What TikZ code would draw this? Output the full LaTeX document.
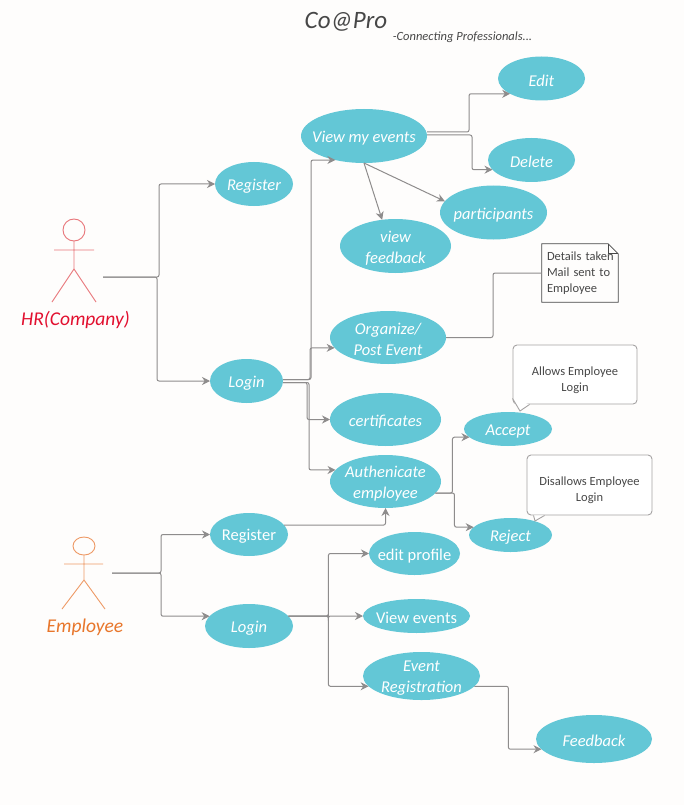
\documentclass[tikz,border=0pt]{standalone}
\usepackage{fontspec}
\setmainfont{Carlito}
\usetikzlibrary{shapes.geometric,arrows.meta}
\definecolor{pagebg}{HTML}{FEFDFC}
\definecolor{ucfill}{HTML}{63C7D6}
\definecolor{linegray}{HTML}{8E8C8C}
\definecolor{hrline}{HTML}{E8767A}
\definecolor{hrtext}{HTML}{E2102F}
\definecolor{empline}{HTML}{EE9A66}
\definecolor{emptext}{HTML}{E8762B}
\definecolor{titlegray}{HTML}{474747}
\newcommand{\ucname}[1]{\smash{\makebox[0pt]{\raisebox{-6.5pt}{\parbox{160pt}{\centering #1}}}}}
\tikzset{
  usecase/.style={ellipse,fill=ucfill,inner sep=0pt,outer sep=0pt,text=white,
    font=\fontsize{16.5}{21}\selectfont\itshape},
  ucplain/.style={usecase,font=\fontsize{16.5}{21}\selectfont},
  conn/.style={draw=linegray,line width=1pt,rounded corners=2pt},
  arrowconn/.style={conn,-{Stealth[length=8pt,width=8pt]}},
  actorname/.style={inner sep=0pt,font=\fontsize{19.5}{23}\selectfont\itshape},
  bubble/.style={draw=linegray!80,line width=0.9pt,fill=white,rounded corners=4pt,
    align=center,text=titlegray,inner sep=0pt,font=\fontsize{12.5}{16}\selectfont},
  notebox/.style={inner ysep=0pt,inner xsep=5pt,align=left,text=titlegray,font=\fontsize{12.5}{16}\selectfont},
}
\begin{document}
\begin{tikzpicture}[x=1pt,y=-1pt]
  \fill[pagebg] (0,0) rectangle (684,805);
  \useasboundingbox (0,0) rectangle (684,805);

  \node[inner sep=0pt,text=titlegray,font=\fontsize{25}{30}\selectfont\itshape] (title) at (346,21.5) {Co@Pro};
  \node[inner sep=0pt,text=titlegray,font=\fontsize{12.5}{16}\selectfont\itshape] (subtitle) at (462.5,37) {-Connecting Professionals...};

  % actors
  \draw[hrline,line width=0.9pt] (74,230) circle [radius=11];
  \draw[hrline,line width=0.9pt] (54,250) -- (94,250) (74,241) -- (74,269) (52,302) -- (74,269) -- (96,302);
  \node[actorname,text=hrtext] (hrname) at (75.5,320) {HR(Company)};
  \draw[empline,line width=0.9pt] (84,546) ellipse [x radius=11,y radius=9];
  \draw[empline,line width=0.9pt] (64,564) -- (103,564) (84,555) -- (84,580) (62,609) -- (84,580) -- (105,609);
  \node[actorname,text=emptext] (empname) at (85,627) {Employee};
  \coordinate (hrhook) at (103,277);
  \coordinate (emphook) at (112,573);

  % use cases
  \node[usecase,minimum width=87,minimum height=44] (edit) at (541.5,78.5) {\ucname{Edit}};
  \node[usecase,minimum width=87,minimum height=44] (delete) at (531.5,160) {\ucname{Delete}};
  \node[usecase,minimum width=126,minimum height=54] (myevents) at (364,136) {\ucname{View my events}};
  \node[usecase,minimum width=107,minimum height=54] (participants) at (493.5,212.5) {\ucname{participants}};
  \node[usecase,minimum width=111,minimum height=54] (viewfeedback) at (395.5,246) {\ucname{view\\feedback}};
  \node[usecase,minimum width=78,minimum height=44] (hrregister) at (254,184) {\ucname{Register}};
  \node[usecase,minimum width=73,minimum height=44] (hrlogin) at (246.5,381) {\ucname{Login}};
  \node[usecase,minimum width=116,minimum height=53] (organize) at (388,337.5) {\ucname{Organize/\\Post Event}};
  \node[usecase,minimum width=111,minimum height=53] (certificates) at (385.5,419.5) {\ucname{certificates}};
  \node[usecase,minimum width=111,minimum height=53] (authenicate) at (385.5,481.5) {\ucname{Authenicate\\employee}};
  \node[usecase,minimum width=88,minimum height=34] (accept) at (508,429) {\ucname{Accept}};
  \node[usecase,minimum width=83,minimum height=34] (reject) at (510.5,535) {\ucname{Reject}};
  \node[ucplain,minimum width=78,minimum height=43] (empregister) at (249,534.5) {\ucname{Register}};
  \node[usecase,minimum width=88,minimum height=44] (emplogin) at (249,626) {\ucname{Login}};
  \node[ucplain,minimum width=91,minimum height=43] (editprofile) at (414.5,553.5) {\ucname{edit profile}};
  \node[ucplain,minimum width=107,minimum height=34] (viewevents) at (416.5,616) {\ucname{View events}};
  \node[usecase,minimum width=117,minimum height=48] (eventreg) at (421.5,676) {\ucname{Event\\Registration}};
  \node[usecase,minimum width=116,minimum height=48] (feedback) at (594,739) {\ucname{Feedback}};

  % note and speech bubbles
  \node[notebox,minimum width=76,minimum height=58,text width=66] (details) at (580,273) {\mbox{Details taken}\\Mail sent to\\Employee};
  \draw[titlegray,line width=0.8pt] (details.north west) -- ([xshift=-10]details.north east) -- ([yshift=-10]details.north east)
    -- (details.south east) -- (details.south west) -- cycle;
  \draw[titlegray,line width=0.8pt] ([xshift=-10]details.north east) -- ([xshift=-10,yshift=-10]details.north east) -- ([yshift=-10]details.north east);
  \node[bubble,minimum width=124,minimum height=59] (allows) at (575,374.5) {\rule{0pt}{20pt}Allows Employee\\Login};
  \filldraw[draw=linegray!80,fill=white,line width=0.9pt] ([yshift=6]allows.south west) -- (520,411) -- ([xshift=17]allows.south west);
  \node[bubble,minimum width=125,minimum height=60] (disallows) at (589.5,485) {\rule{0pt}{20pt}Disallows Employee\\Login};
  \filldraw[draw=linegray!80,fill=white,line width=0.9pt] ([xshift=7]disallows.south west) -- (535,521) -- ([xshift=18]disallows.south west);

  % connectors
  \draw[arrowconn] (hrhook) -- ++(56,0) |- (hrregister.west);
  \draw[arrowconn] (hrhook) -- ++(54,0) |- (hrlogin.west);
  \draw[arrowconn] ([yshift=1.5]hrlogin.east) -- ++(28,0) |- (myevents.220);
  \draw[arrowconn] ([yshift=1.5]hrlogin.east) -- ++(27,0) |- (organize.191);
  \draw[arrowconn] ([yshift=-1.5]hrlogin.east) -- ++(24,0) |- (certificates.west);
  \draw[arrowconn] ([yshift=-1.5]hrlogin.east) -- ++(26,0) |- (authenicate.167);
  \draw[arrowconn] ([yshift=4]myevents.east) -- ++(42,0) |- (edit.206);
  \draw[arrowconn] ([yshift=1]myevents.east) -- ++(45,0) |- (delete.194);
  \draw[arrowconn] (myevents.south) -- (viewfeedback.117);
  \draw[arrowconn] (myevents.south) -- (participants.167);
  \draw[conn] (organize.east) -- ++(47,0) |- (details.west);
  \draw[arrowconn] (authenicate.347) -- ++(17,0) |- (accept.192);
  \draw[arrowconn] (authenicate.347) -- ++(19,0) |- (reject.168);
  \draw[arrowconn] (empregister.15) -| (authenicate.south);
  \draw[arrowconn] (emphook) -- ++(49,0) |- (empregister.west);
  \draw[arrowconn] (emphook) -- ++(49,0) |- (emplogin.166);
  \draw[arrowconn] (emplogin.14) -- ++(40,0) |- (editprofile.west);
  \draw[arrowconn] (emplogin.14) -- ++(40,0) |- (viewevents.west);
  \draw[arrowconn] (emplogin.14) -- ++(40,0) |- (eventreg.191);
  \draw[arrowconn] (eventreg.349) -- ++(34,0) |- (feedback.191);
\end{tikzpicture}
\end{document}
